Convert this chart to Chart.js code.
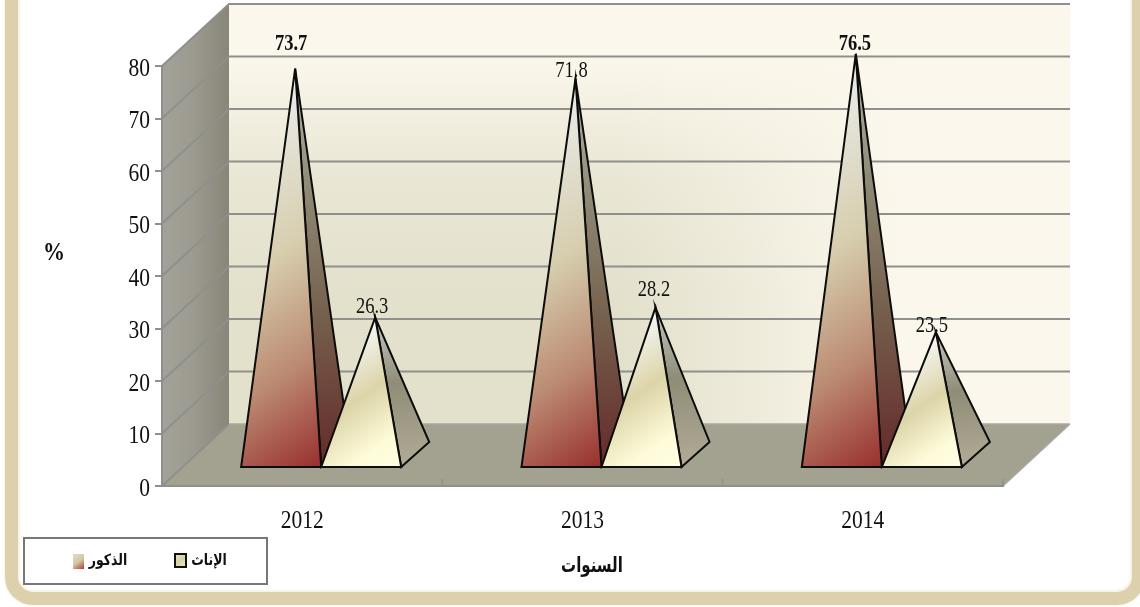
<!DOCTYPE html>
<html lang="ar">
<head>
<meta charset="utf-8">
<style>
html,body{margin:0;padding:0;width:1140px;height:607px;overflow:hidden;background:#fff}
#frame{position:absolute;left:5px;top:-60px;width:1114px;height:639px;box-sizing:content-box;border:13px solid #ddd0ac;border-radius:28px;box-shadow:0 0 3px #eee5cc,inset 0 0 4px #e8dfc6;margin:0}
#c{position:absolute;left:0;top:0}
</style>
<script src="https://cdn.jsdelivr.net/npm/chart.js@4/dist/chart.umd.min.js"></script>
</head>
<body>
<div id="frame"></div>
<canvas id="c" width="1140" height="607"></canvas>
<script>
const years = ['2012', '2013', '2014'];
const maleValues = [73.7, 71.8, 76.5];
const femaleValues = [26.3, 28.2, 23.5];
const maleName = 'الذكور';
const femaleName = 'الإناث';
const xTitle = 'السنوات';
const yTitle = '%';

// Hand-placed data label offsets from the apex of each pyramid, in pixels
const maleLabelOffsets = [[-4, -24], [-4, -7], [-1, -10]];
const femaleLabelOffsets = [[-3, -10], [-1.5, -17], [-4, -6]];

const STRETCH = 1.22;
const WALL = {dx: 67, dy: -62};
const GAP = {dx: 19, dy: -18};
const PYR = {dx: 28, dy: -25};
const SERIF = '"Liberation Serif","Times New Roman",serif';
const ARABIC = '"DejaVu Sans",sans-serif';
const GRID = '#8f8f8c';

const palettes = {
  male: {
    front: [[0, '#eceeee'], [.42, '#d6ceae'], [.72, '#bb8a72'], [1, '#98302e']],
    side: [[0, '#b6b6ac'], [.3, '#8f8a76'], [.62, '#75604d'], [1, '#642a29']]
  },
  female: {
    front: [[0, '#f6f9fa'], [.42, '#dcd4a8'], [.78, '#fdfbd8'], [1, '#fffee2']],
    side: [[0, '#c6c8c4'], [.45, '#8f8d77'], [1, '#b2aa96']]
  }
};

function grad(ctx, x0, y0, x1, y1, stops) {
  const g = ctx.createLinearGradient(x0, y0, x1, y1);
  stops.forEach(s => g.addColorStop(s[0], s[1]));
  return g;
}
function poly(ctx, pts) {
  ctx.beginPath();
  pts.forEach((p, i) => i ? ctx.lineTo(p[0], p[1]) : ctx.moveTo(p[0], p[1]));
  ctx.closePath();
}
function tallText(ctx, text, x, y, font, color, align, sy) {
  ctx.save();
  ctx.translate(x, y);
  ctx.scale(1, sy || STRETCH);
  ctx.font = font;
  ctx.fillStyle = color || '#111';
  ctx.textAlign = align || 'center';
  ctx.textBaseline = 'middle';
  ctx.fillText(text, 0, 0);
  ctx.restore();
}
function arabicText(ctx, text, x, y, font, sy) {
  ctx.save();
  ctx.translate(x, y);
  ctx.scale(1, sy);
  ctx.direction = 'rtl';
  ctx.font = font;
  ctx.fillStyle = '#111';
  ctx.textAlign = 'center';
  ctx.textBaseline = 'middle';
  ctx.fillText(text, 0, 0);
  ctx.restore();
}

// Tick labels in the reference are stretched vertically
function stretchedDrawLabels(area) {
  const ctx = this.ctx;
  const nudge = this.axis === 'y' ? 3 : 0;
  this.getLabelItems(area).forEach(item => {
    const [x, y] = item.options.translation;
    tallText(ctx, String(item.label), x, y + item.textOffset + nudge, item.font.string,
      item.options.color, item.options.textAlign);
  });
}

function apexOf(el) {
  return {x: el.x + GAP.dx + PYR.dx / 2, y: el.y + GAP.dy + PYR.dy / 2};
}

const scene = {
  id: 'scene',
  beforeDraw(chart) {
    const {ctx, scales: {x, y}} = chart;
    x.drawLabels = stretchedDrawLabels;
    y.drawLabels = stretchedDrawLabels;
    const L = x.left, R = x.right, B = y.getPixelForValue(0), T = y.getPixelForValue(80);
    const bL = L + WALL.dx, bR = R + WALL.dx, bB = B + WALL.dy, bT = T + WALL.dy;
    ctx.save();

    // back wall
    ctx.fillStyle = grad(ctx, 0, bT, 0, bB, [[0, '#fbf7ec'], [.12, '#fbf7ec'], [.42, '#e9e6d4'], [.7, '#e3e0cc'], [1, '#e3e0cc']]);
    ctx.fillRect(bL, bT, bR - bL, bB - bT);
    ctx.fillStyle = grad(ctx, 620, 0, 900, 0, [[0, 'rgba(251,247,236,0)'], [1, 'rgba(251,247,236,1)']]);
    ctx.fillRect(620, bT, bR - 620, bB - bT);

    // left wall
    poly(ctx, [[L, B], [L, T], [bL, bT], [bL, bB]]);
    ctx.fillStyle = grad(ctx, L, 0, bL, 0, [[0, '#a3a29a'], [.45, '#9d9b90'], [1, '#888679']]);
    ctx.fill();

    // floor
    poly(ctx, [[L, B], [R, B], [bR, bB], [bL, bB]]);
    ctx.fillStyle = '#a3a18f';
    ctx.fill();

    // gridlines on both walls
    ctx.strokeStyle = GRID;
    ctx.lineWidth = 2;
    y.ticks.forEach(t => {
      const py = y.getPixelForValue(t.value);
      ctx.beginPath();
      ctx.moveTo(L, py);
      ctx.lineTo(bL, py + WALL.dy);
      if (t.value > 0) ctx.lineTo(bR, py + WALL.dy);
      ctx.stroke();
    });
    ctx.lineWidth = 1.5;
    ctx.strokeStyle = '#a9a9a4';
    ctx.beginPath();
    ctx.moveTo(R, B);
    ctx.lineTo(bR, bB);
    ctx.moveTo(bL, bB);
    ctx.lineTo(bR, bB);
    ctx.stroke();
    ctx.restore();
  },
  afterDatasetsDraw(chart) {
    const {ctx, scales: {x}} = chart;
    const B = chart.scales.y.getPixelForValue(0);

    // tick marks between categories, standing on the floor
    ctx.save();
    ctx.strokeStyle = GRID;
    ctx.lineWidth = 1.5;
    for (let i = 0; i <= years.length; i++) {
      const px = x.getPixelForValue(i - .5);
      ctx.beginPath();
      ctx.moveTo(px, B);
      ctx.lineTo(px, B - 7);
      ctx.stroke();
    }
    ctx.restore();

    // pyramids
    chart.data.datasets.forEach((ds, di) => {
      const pal = di === 0 ? palettes.male : palettes.female;
      chart.getDatasetMeta(di).data.forEach(el => {
        const x0 = el.x - el.width / 2 + GAP.dx, x1 = el.x + el.width / 2 + GAP.dx;
        const by = el.base + GAP.dy;
        const {x: ax, y: ay} = apexOf(el);
        // gradient runs diagonally, with iso-lines rising to the right
        const ux = .57, uy = .82;
        const len = (x1 - ax) * ux + (by - ay) * uy;
        ctx.save();
        ctx.lineJoin = 'miter';
        ctx.strokeStyle = '#0c0c0a';
        ctx.lineWidth = 2;
        poly(ctx, [[x1, by], [x1 + PYR.dx, by + PYR.dy], [ax, ay]]);
        ctx.fillStyle = grad(ctx, ax, ay, ax + 12, by, pal.side);
        ctx.fill();
        ctx.stroke();
        poly(ctx, [[x0, by], [x1, by], [ax, ay]]);
        ctx.fillStyle = grad(ctx, ax, ay, ax + ux * len, ay + uy * len, pal.front);
        ctx.fill();
        ctx.stroke();
        ctx.restore();
      });
    });

    // data labels
    chart.data.datasets.forEach((ds, di) => {
      const offsets = di === 0 ? maleLabelOffsets : femaleLabelOffsets;
      chart.getDatasetMeta(di).data.forEach((el, i) => {
        const a = apexOf(el);
        const bold = di === 0 && i !== 1;
        tallText(ctx, ds.data[i].toFixed(1), a.x + offsets[i][0], a.y + offsets[i][1],
          (bold ? 'bold ' : '') + '18.5px ' + SERIF, '#111');
      });
    });

    // axis titles
    tallText(ctx, yTitle, 54, 254, 'bold 22px ' + SERIF, '#111', 'center', 1.1);
    arabicText(ctx, xTitle, 592, 567, 'bold 15px ' + ARABIC, 1.4);

    // legend
    ctx.save();
    ctx.fillStyle = '#fff';
    ctx.strokeStyle = '#777';
    ctx.lineWidth = 2;
    ctx.fillRect(24, 538, 243, 46);
    ctx.strokeRect(24, 538, 243, 46);
    ctx.fillStyle = grad(ctx, 174, 553, 186, 568, [[0, '#e8e8dc'], [.5, '#d8d0a4'], [1, '#f4efc8']]);
    ctx.fillRect(175, 554, 11, 13);
    ctx.strokeStyle = '#111';
    ctx.strokeRect(175, 554, 11, 13);
    ctx.fillStyle = grad(ctx, 73, 554, 84, 569, [[0, '#dcdcd0'], [.5, '#d4c8a4'], [1, '#a8403a']]);
    ctx.fillRect(73, 554, 11, 15);
    ctx.restore();
    arabicText(ctx, femaleName, 209, 561, 'bold 12.5px ' + ARABIC, 1.25);
    arabicText(ctx, maleName, 108, 561, 'bold 12.5px ' + ARABIC, 1.25);
  }
};

const tickStyle = {color: '#111', font: {family: SERIF, size: 21.5}};

new Chart(document.getElementById('c'), {
  type: 'bar',
  data: {
    labels: years,
    datasets: [
      {label: maleName, data: maleValues, backgroundColor: 'rgba(0,0,0,0)', borderWidth: 0, categoryPercentage: .571, barPercentage: 1},
      {label: femaleName, data: femaleValues, backgroundColor: 'rgba(0,0,0,0)', borderWidth: 0, categoryPercentage: .571, barPercentage: 1}
    ]
  },
  plugins: [scene],
  options: {
    responsive: false,
    animation: false,
    events: [],
    layout: {padding: {left: 0, right: 137, top: 66, bottom: 0}},
    plugins: {legend: {display: false}, title: {display: false}, tooltip: {enabled: false}},
    scales: {
      x: {
        type: 'category',
        afterFit(s) { s.height = 121; },
        grid: {display: false},
        border: {display: true, color: GRID, width: 2},
        ticks: {...tickStyle, padding: 14, maxRotation: 0}
      },
      y: {
        type: 'linear',
        min: 0,
        max: 80,
        afterFit(s) { s.width = 162; },
        grid: {drawOnChartArea: false, drawTicks: true, tickLength: 7, color: GRID, lineWidth: 2},
        border: {display: true, color: GRID, width: 2},
        ticks: {...tickStyle, stepSize: 10, padding: 5}
      }
    }
  }
});
</script>
</body>
</html>
